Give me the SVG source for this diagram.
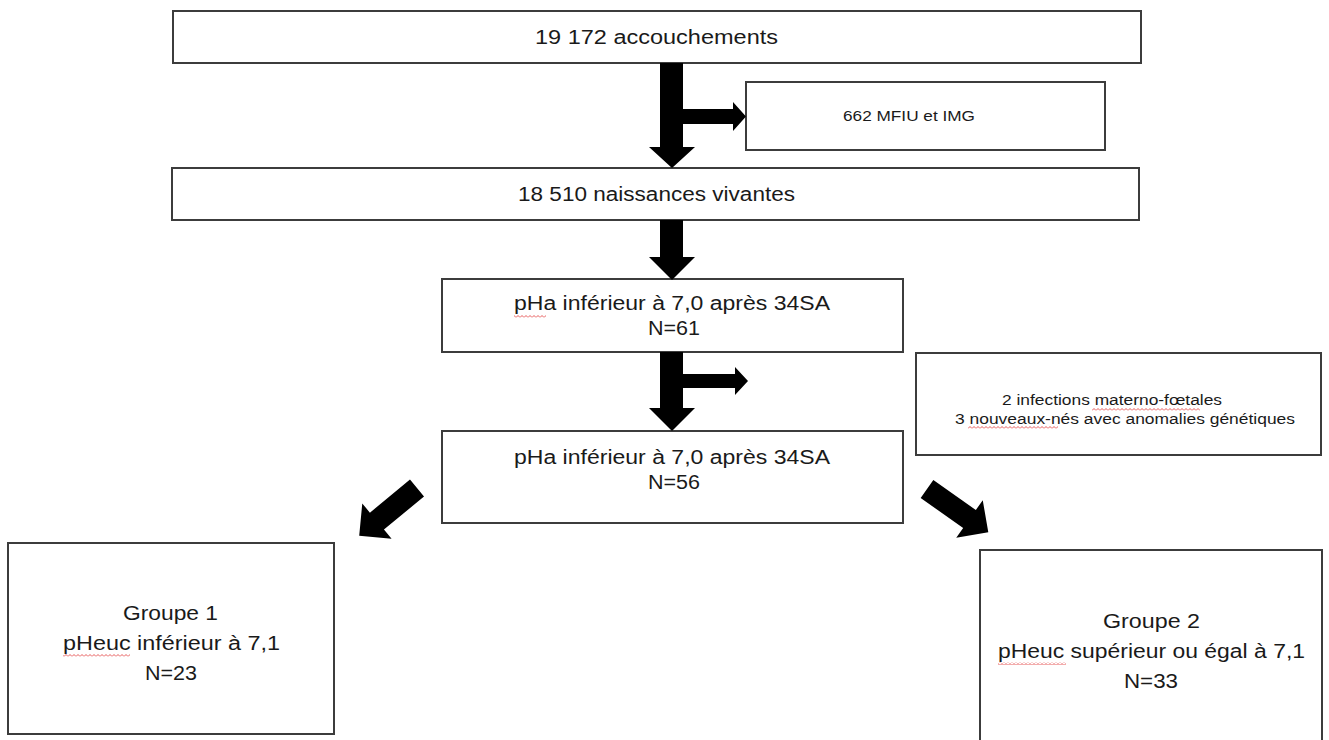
<svg xmlns="http://www.w3.org/2000/svg" width="1329" height="740" viewBox="0 0 1329 740">
<style>
.box{fill:#fff;stroke:#3c3c3c;stroke-width:2}
.t{font-family:"Liberation Sans",Arial,sans-serif;font-size:20px;fill:#1a1a1a}
.s{font-family:"Liberation Sans",Arial,sans-serif;font-size:14px;fill:#1a1a1a}
.arr{fill:#000}
.sq{fill:url(#sq)}
</style>
<defs>
<pattern id="sq" width="4" height="3" patternUnits="userSpaceOnUse"><path d="M0,2.5 L2,0.5 L4,2.5" stroke="#e03030" fill="none" stroke-width="0.8"/></pattern>
</defs>
<rect width="1329" height="740" fill="#fff"/>
<g id="n1"><rect class="box" x="173" y="11" width="968" height="52"/><text class="t" x="535" y="44" textLength="243" lengthAdjust="spacingAndGlyphs">19 172 accouchements</text></g>
<g id="n2"><rect class="box" x="746" y="82" width="359" height="68"/><text class="s" x="843" y="121" textLength="132" lengthAdjust="spacingAndGlyphs">662 MFIU et IMG</text></g>
<g id="n3"><rect class="box" x="172" y="168" width="967" height="52"/><text class="t" x="518" y="201" textLength="277" lengthAdjust="spacingAndGlyphs">18 510 naissances vivantes</text></g>
<g id="n4"><rect class="box" x="442" y="279" width="461" height="73"/><text class="t" x="514" y="310" textLength="316" lengthAdjust="spacingAndGlyphs">pHa inférieur à 7,0 après 34SA</text><text class="t" x="648" y="335" textLength="52" lengthAdjust="spacingAndGlyphs">N=61</text><rect class="sq" x="514" y="315" width="32" height="3"/></g>
<g id="n5"><rect class="box" x="916" y="353" width="405" height="102"/><text class="s" x="1002" y="405" textLength="220" lengthAdjust="spacingAndGlyphs">2 infections materno-fœtales</text><text class="s" x="955" y="424" textLength="340" lengthAdjust="spacingAndGlyphs">3 nouveaux-nés avec anomalies génétiques</text><rect class="sq" x="1092" y="408" width="108" height="3"/><rect class="sq" x="968" y="426" width="90" height="3"/></g>
<g id="n6"><rect class="box" x="442" y="431" width="461" height="92"/><text class="t" x="514" y="464" textLength="316" lengthAdjust="spacingAndGlyphs">pHa inférieur à 7,0 après 34SA</text><text class="t" x="648" y="489" textLength="52" lengthAdjust="spacingAndGlyphs">N=56</text></g>
<g id="n7"><rect class="box" x="8" y="543" width="326" height="191"/><text class="t" x="123" y="620" textLength="95" lengthAdjust="spacingAndGlyphs">Groupe 1</text><text class="t" x="63" y="650" textLength="217" lengthAdjust="spacingAndGlyphs">pHeuc inférieur à 7,1</text><text class="t" x="145" y="680" textLength="52" lengthAdjust="spacingAndGlyphs">N=23</text><rect class="sq" x="63" y="654" width="67" height="3"/></g>
<g id="n8"><rect class="box" x="980" y="550" width="342" height="200"/><text class="t" x="1103" y="628" textLength="97" lengthAdjust="spacingAndGlyphs">Groupe 2</text><text class="t" x="998" y="658" textLength="307" lengthAdjust="spacingAndGlyphs">pHeuc supérieur ou égal à 7,1</text><text class="t" x="1124" y="688" textLength="54" lengthAdjust="spacingAndGlyphs">N=33</text><rect class="sq" x="998" y="662" width="68" height="3"/></g>
<g id="connectors">
<polygon class="arr" points="660,63 683,63 683,109 733,109 733,102 746,116.5 733,131 733,124 683,124 683,147 695,147 672,168 649,147 660,147"/>
<polygon class="arr" points="660,220 683,220 683,257 695,257 672,280 649,257 660,257"/>
<polygon class="arr" points="660,352 683,352 683,374 735,374 735,367 748,381 735,395 735,388 683,388 683,408 695,408 672,431 649,408 660,408"/>
<polygon class="arr" transform="translate(417,488) rotate(140.4)" points="0,-11 52,-11 52,-23 75,0 52,23 52,11 0,11"/>
<polygon class="arr" transform="translate(927,489) rotate(35.2)" points="0,-11 52,-11 52,-23 75,0 52,23 52,11 0,11"/>
</g>
</svg>
